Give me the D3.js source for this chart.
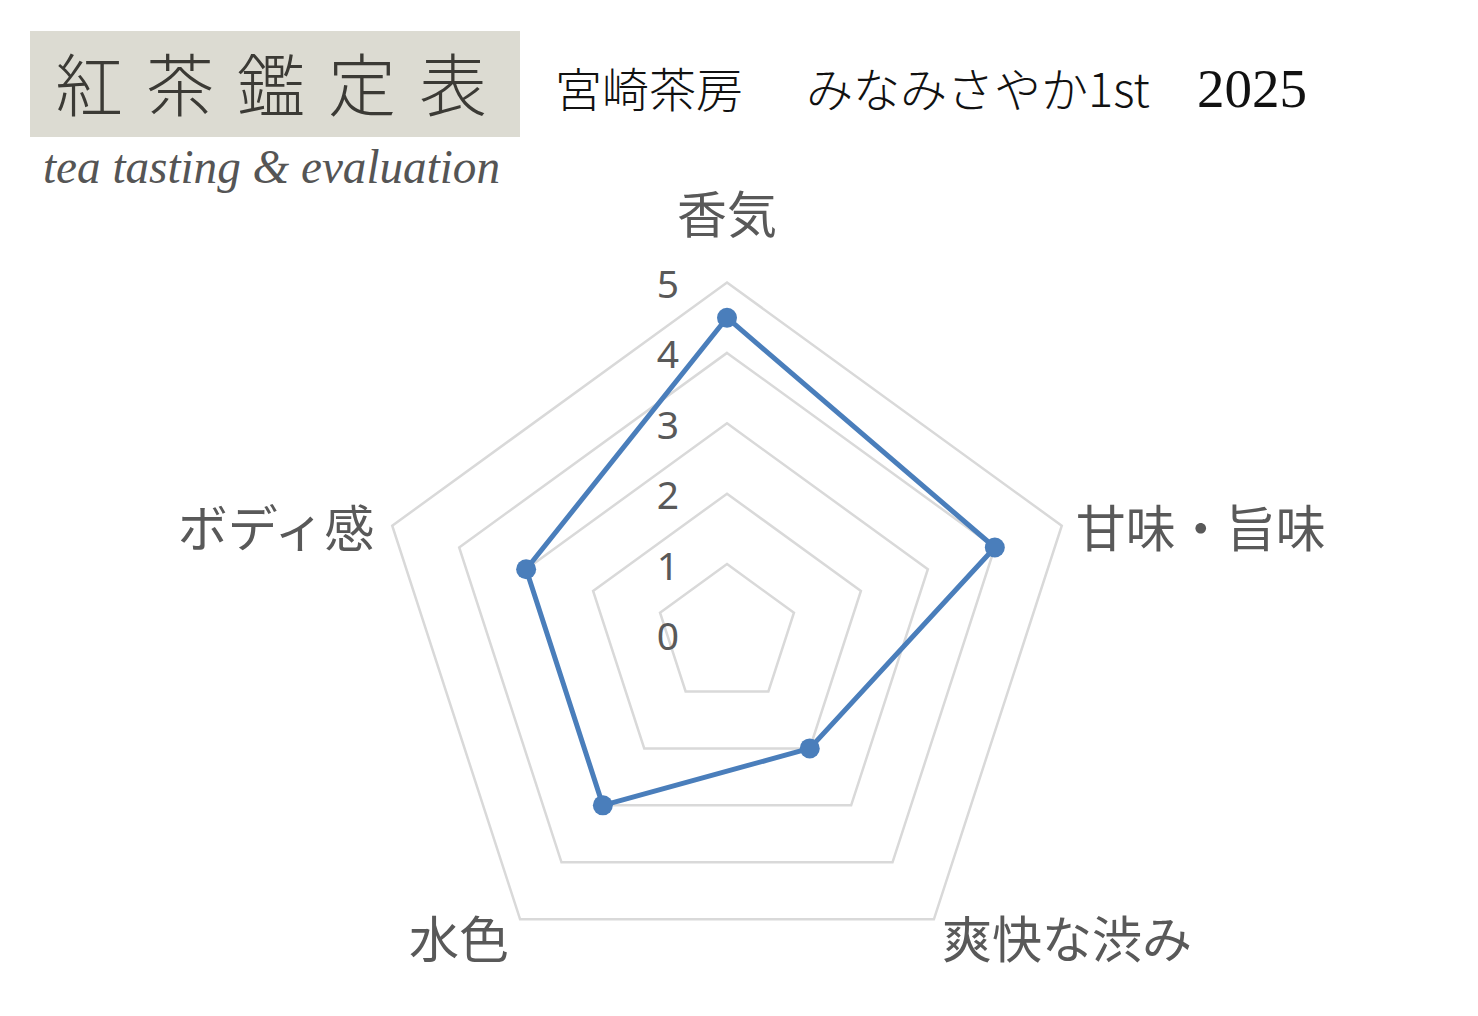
<!DOCTYPE html>
<html>
<head>
<meta charset="utf-8">
<script src="https://cdn.jsdelivr.net/npm/d3@7"></script>
<style>
  body { margin: 0; background: #fff; }
  svg { display: block; }
</style>
</head>
<body>
<div class="chart"></div>
<script>
// chart data
const axes = ["香気", "甘味・旨味", "爽快な渋み", "水色", "ボディ感"];
const scores = [4.5, 4, 2, 3, 3];
const ticks = [0, 1, 2, 3, 4, 5];

const headerTitle = "紅茶鑑定表";
const headerSub = "tea tasting & evaluation";
const titleParts = ["宮崎茶房", "みなみさやか1st", "2025"];

const width = 1478, height = 1016;
const cx = 727, cy = 634.5, radius = 352;

const svg = d3.select(".chart").append("svg")
    .attr("width", width)
    .attr("height", height);

//Header block
svg.append("rect")
    .attr("x", 30).attr("y", 31)
    .attr("width", 490).attr("height", 106)
    .attr("fill", "#dcdbd2");

svg.append("text")
    .attr("x", 55).attr("y", 111)
    .attr("font-family", "'Noto Sans CJK JP'")
    .attr("font-size", 68)
    .attr("font-weight", 300)
    .attr("letter-spacing", 23)
    .attr("fill", "#3b3a35")
    .text(headerTitle);

svg.append("text")
    .attr("x", 43).attr("y", 183)
    .attr("font-family", "'Liberation Serif', serif")
    .attr("font-style", "italic")
    .attr("font-size", 48)
    .attr("textLength", 457)
    .attr("lengthAdjust", "spacingAndGlyphs")
    .attr("fill", "#555")
    .text(headerSub);

//Title
const titleX = [555, 806, 1197];
const titleFont = ["'Noto Sans CJK JP'", "'Noto Sans CJK JP'", "'Liberation Serif', serif"];
const titleSize = [47, 47, 55];
titleParts.forEach((t, i) => {
    svg.append("text")
        .attr("x", titleX[i]).attr("y", 107)
        .attr("font-family", titleFont[i])
        .attr("font-size", titleSize[i])
        .attr("font-weight", 300)
        .attr("fill", "#111")
        .text(t);
});

//Scales
const r = d3.scaleLinear()
    .domain([0, d3.max(ticks)])
    .range([0, radius]);

const angle = d3.scaleLinear()
    .domain([0, axes.length])
    .range([0, 2 * Math.PI]);

const px = (i, v) => cx + r(v) * Math.sin(angle(i));
const py = (i, v) => cy - r(v) * Math.cos(angle(i));

const g = svg.append("g");

//Grid pentagons
const gridLine = d3.line();
ticks.filter(t => t > 0).forEach(t => {
    const pts = axes.map((a, i) => [px(i, t), py(i, t)]);
    g.append("path")
        .attr("d", gridLine(pts) + "Z")
        .attr("fill", "none")
        .attr("stroke", "#d9d9d9")
        .attr("stroke-width", 2.5);
});

//Tick labels
g.selectAll(".tick")
    .data(ticks)
    .enter().append("text")
    .attr("class", "tick")
    .attr("x", 679)
    .attr("y", d => cy - r(d))
    .attr("text-anchor", "end")
    .attr("dominant-baseline", "central")
    .attr("font-family", "'Noto Sans', 'Noto Sans CJK JP'")
    .attr("font-size", 39)
    .attr("fill", "#595959")
    .text(d => d);

//Axis labels
axes.forEach((a, i) => {
    const s = Math.sin(angle(i)), c = Math.cos(angle(i));
    const x0 = px(i, d3.max(ticks)), y0 = py(i, d3.max(ticks));
    let x = x0, y = y0, anchor = "middle";
    if (Math.abs(s) < 0.1) {
        y = y0 - 72;
    } else if (c > 0) {
        x = x0 + (s > 0 ? 14 : -18);
        y = y0 - 1;
        anchor = s > 0 ? "start" : "end";
    } else {
        x = x0 + (s > 0 ? 8 : -11);
        y = y0 + 17;
        anchor = s > 0 ? "start" : "end";
    }
    g.append("text")
        .attr("x", x).attr("y", y)
        .attr("text-anchor", anchor)
        .attr("dominant-baseline", "central")
        .attr("font-family", "'Noto Sans CJK JP'")
        .attr("font-size", 50)
        .attr("fill", "#595959")
        .text(a);
});

//Series line
const seriesLine = d3.line()
    .x((d, i) => px(i, d))
    .y((d, i) => py(i, d))
    .curve(d3.curveLinearClosed);

g.append("path")
    .datum(scores)
    .attr("d", seriesLine)
    .attr("fill", "none")
    .attr("stroke", "#4a7ebb")
    .attr("stroke-width", 5)
    .attr("stroke-linejoin", "round");

g.selectAll(".dot")
    .data(scores)
    .enter().append("circle")
    .attr("class", "dot")
    .attr("cx", (d, i) => px(i, d))
    .attr("cy", (d, i) => py(i, d))
    .attr("r", 10)
    .attr("fill", "#4a7ebb");
</script>
</body>
</html>
